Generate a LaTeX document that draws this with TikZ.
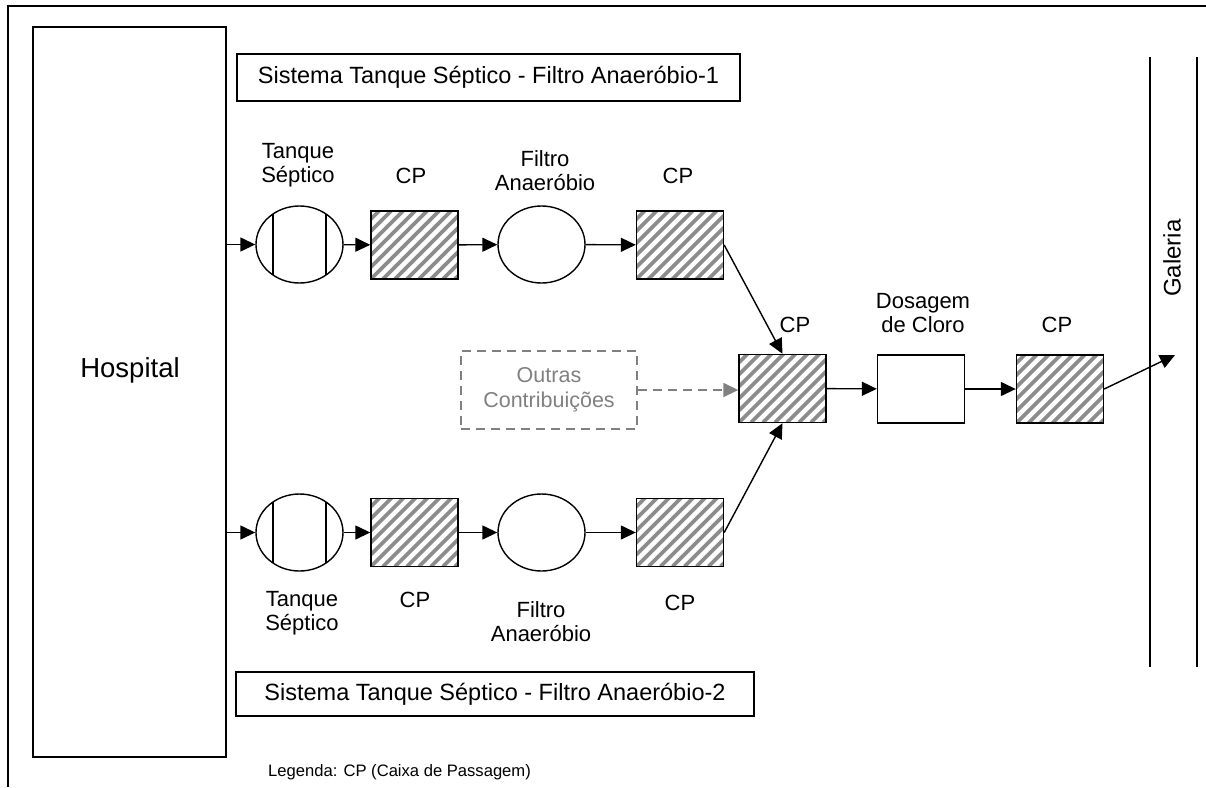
\documentclass[tikz,border=0pt]{standalone}
\usepackage{fontspec}
\setmainfont{Liberation Sans}
\usetikzlibrary{arrows.meta,shapes.geometric}

\tikzset{
  box/.style={draw, line width=1.4pt, rectangle, inner sep=0pt, fill=white},
  cpbox/.style={box, minimum width=87pt, minimum height=68pt,
    path picture={
      \foreach \k in {-8,...,8}{
        \draw[black!45, line width=3.6pt]
          ([xshift=\k*12pt]path picture bounding box.south west) -- ++(100pt,100pt);
      }
    }},
  plainbox/.style={box, minimum width=87pt, minimum height=68pt},
  tankshape/.style={draw, line width=1.4pt, ellipse, inner sep=0pt,
    minimum width=87pt, minimum height=77pt,
    path picture={
      \draw[line width=1.4pt] ([xshift=-26.5pt,yshift=-45pt]path picture bounding box.center) -- ++(0pt,90pt);
      \draw[line width=1.4pt] ([xshift=26.5pt,yshift=-45pt]path picture bounding box.center) -- ++(0pt,90pt);
    }},
  filtshape/.style={draw, line width=1.4pt, ellipse, inner sep=0pt,
    minimum width=87pt, minimum height=77pt},
  lbl/.style={font=\fontsize{22}{24}\selectfont, align=center, inner sep=0pt},
  sysbox/.style={box, font=\fontsize{23.5}{27}\selectfont, inner sep=0pt},
  arr/.style={line width=1.4pt, -{Triangle[length=15pt,width=14pt]}},
  grayarr/.style={line width=1.6pt, draw=black!50, dash pattern=on 9pt off 6pt,
    -{Triangle[length=15pt,width=14pt,fill=black!50]}},
}

\begin{document}
\begin{tikzpicture}[x=1pt,y=-1pt]
\useasboundingbox (0,0) rectangle (1206,787);

% outer frame
\draw[line width=2pt] (8,787) -- (8,6) -- (1206,6);

% hospital block
\node[box, minimum width=193pt, minimum height=730pt] (hosp) at (129.5,392) {};
\node[font=\fontsize{27.5}{31}\selectfont, inner sep=0pt] (hosplbl) at (130,370) {Hospital};

% system titles
\node[sysbox, minimum width=503pt, minimum height=47pt] (sys1) at (488.5,77.5)
  {Sistema Tanque Séptico - Filtro Anaeróbio-1};
\node[sysbox, minimum width=518pt, minimum height=44pt] (sys2) at (495,694)
  {Sistema Tanque Séptico - Filtro Anaeróbio-2};

% line 1
\node[tankshape] (tank1) at (299.5,244.5) {};
\node[cpbox] (cp1) at (414.5,245) {};
\node[filtshape] (filt1) at (541.5,244.5) {};
\node[cpbox] (cp2) at (680,245) {};

% line 2
\node[tankshape] (tank2) at (299.5,532.5) {};
\node[cpbox] (cp3) at (414.5,532.5) {};
\node[filtshape] (filt2) at (541.5,532.5) {};
\node[cpbox] (cp4) at (680,532.5) {};

% merge, disinfection and outlet
\node[cpbox] (cp5) at (782.5,388.5) {};
\node[plainbox] (dos) at (921,389) {};
\node[cpbox] (cp6) at (1060,389) {};

% other contributions
\node[draw=black!50, line width=1.6pt, dash pattern=on 9pt off 6pt,
  minimum width=176pt, minimum height=78pt, inner sep=0pt, align=center,
  text=black!50, font=\fontsize{21.5}{25}\selectfont] (outras) at (549,390)
  {Outras\\Contribuições};

% gallery
\coordinate (gal1a) at (1150,57);
\coordinate (gal1b) at (1150,667);
\coordinate (gal2a) at (1197,57);
\coordinate (gal2b) at (1197,667);
\draw[line width=1.8pt] (gal1a) -- (gal1b);
\draw[line width=1.8pt] (gal2a) -- (gal2b);
\node[font=\fontsize{24}{27}\selectfont, rotate=90, inner sep=0pt] (gallbl) at (1172,258) {Galeria};
\coordinate (galtip) at (1175,355);

% labels
\node[lbl] (l1) at (298,165) {Tanque\\Séptico};
\node[lbl] (l2) at (411,176) {CP};
\node[lbl] (l3) at (545,171) {Filtro\\Anaeróbio};
\node[lbl] (l4) at (678,176) {CP};
\node[lbl] (l5) at (795,325) {CP};
\node[lbl] (l6) at (923,313) {Dosagem\\de Cloro};
\node[lbl] (l7) at (1057,325) {CP};
\node[lbl] (l8) at (302,613) {Tanque\\Séptico};
\node[lbl] (l9) at (415,600) {CP};
\node[lbl] (l10) at (541,622) {Filtro\\Anaeróbio};
\node[lbl] (l11) at (680,603) {CP};
\node[font=\fontsize{16.6}{19}\selectfont, anchor=west, inner sep=0pt] (legend) at (268,772)
  {Legenda: CP (Caixa de Passagem)};

% connectors
\draw[arr] (hosp.east |- tank1) -- (tank1);
\draw[arr] (tank1) -- (cp1);
\draw[arr] (cp1) -- (filt1);
\draw[arr] (filt1) -- (cp2);
\draw[arr] (hosp.east |- tank2) -- (tank2);
\draw[arr] (tank2) -- (cp3);
\draw[arr] (cp3) -- (filt2);
\draw[arr] (filt2) -- (cp4);
\draw[arr] (cp2.east) -- (cp5.north);
\draw[arr] (cp4.east) -- (cp5.south);
\draw[grayarr] (outras.east) -- (cp5.west |- outras.east);
\draw[arr] (cp5) -- (dos);
\draw[arr] (dos) -- (cp6);
\draw[arr] (cp6.east) -- (galtip);
\end{tikzpicture}
\end{document}
